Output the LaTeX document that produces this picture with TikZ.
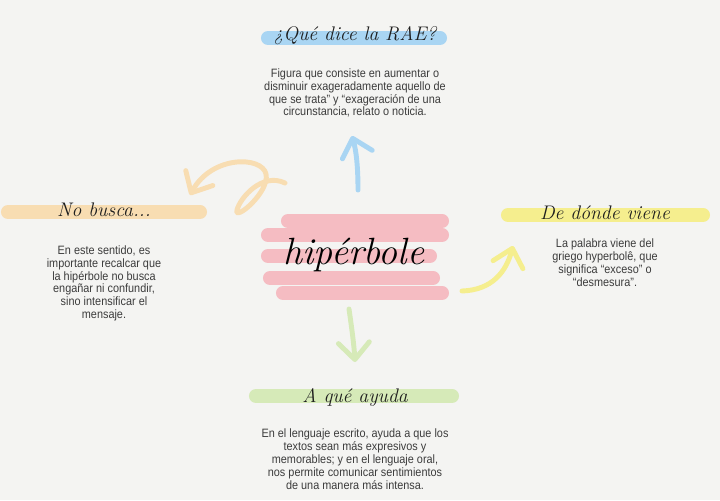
\documentclass[tikz,border=0pt]{standalone}
\usepackage{fontspec}
\setmainfont{Liberation Sans}[FakeStretch=0.9]
\newfontfamily\handfont{Latin Modern Roman}
\usepackage{tikz}
\usetikzlibrary{arrows.meta,positioning}

\definecolor{paper}{HTML}{F4F4F2}
\definecolor{ink}{HTML}{1E1E1E}
\definecolor{grayink}{HTML}{3C3C3C}
\definecolor{pinkpen}{HTML}{F5BCC2}
\definecolor{bluepen}{HTML}{A9D5F3}
\definecolor{orangepen}{HTML}{F8DDB2}
\definecolor{yellowpen}{HTML}{F5EE8E}
\definecolor{greenpen}{HTML}{D6EAB8}

\begin{document}
\begin{tikzpicture}[x=0.025cm, y=-0.025cm, line cap=round,
        >={Straight Barb[length=12pt,width=22pt,round]},
        brush/.style={->, line width=3.5pt, draw=#1},
        band/.style={line width=10pt, draw=#1},
        title/.style={font=\handfont\itshape\fontsize{14}{14}\selectfont, text=ink},
        body/.style={align=center, inner sep=0pt, text=grayink,
                     font=\fontsize{8.6}{9.2}\selectfont},
        node distance=0.45cm]
        \useasboundingbox[fill=paper] (0,0) rectangle (720,500);

        \foreach \y/\a/\b in {221/288/442, 235/268/442, 256/268/430, 278/270/433, 293/283/442}
            \draw[band=pinkpen] (\a,\y) -- (\b,\y);
        \draw[band=bluepen] (268,38) -- (440,38);
        \draw[band=orangepen] (8,212) -- (200,212);
        \draw[band=yellowpen] (508,215) -- (703,215);
        \draw[band=greenpen] (256,396) -- (452,396);

        \node (hyp) at (354,255) {\handfont\itshape\fontsize{27}{27}\selectfont hipérbole};

        \node [title] (rae) at (355,36) {¿Qué dice la RAE?};
        \node [title] (busca) at (104,210) {No busca...};
        \node [title] (origen) at (605,213) {De dónde viene};
        \node [title] (ayuda) at (355,397) {A qué ayuda};

        \node [body, below=of rae] (raetext) {Figura que consiste en aumentar o\\
            disminuir exageradamente aquello de\\que se trata” y “exageración de una\\
            circunstancia, relato o noticia.};
        \node [body, below=0.58cm of busca] (buscatext) {En este sentido, es\\importante recalcar que\\
            la hipérbole no busca\\engañar ni confundir,\\sino intensificar el\\mensaje.};
        \node [body, below=0.35cm of origen] (origentext) {La palabra viene del\\
            griego hyperbolê, que\\significa “exceso” o\\“desmesura”.};
        \node [body, below=0.43cm of ayuda] (ayudatext) {En el lenguaje escrito, ayuda a que los\\
            textos sean más expresivos y\\memorables; y en el lenguaje oral,\\
            nos permite comunicar sentimientos\\de una manera más intensa.};

        \coordinate (up0) at (358,190);
        \coordinate (up1) at (352,136);
        \coordinate (lf0) at (285,183);
        \coordinate (lf1) at (190,195);
        \coordinate (rt0) at (462,291);
        \coordinate (rt1) at (513,246);
        \coordinate (dn0) at (349,309);
        \coordinate (dn1) at (355,362);

        \draw[brush=bluepen] (up0) .. controls (358,165) and (356,150) .. (up1);
        \draw[brush=orangepen] (lf0) .. controls (262,172) and (240,198) .. (237,210)
            .. controls (234,222) and (270,192) .. (266,174)
            .. controls (262,156) and (212,155) .. (lf1);
        \draw[brush=yellowpen] (rt0) .. controls (492,290) and (506,272) .. (rt1);
        \draw[brush=greenpen] (dn0) .. controls (352,330) and (354,345) .. (dn1);
\end{tikzpicture}
\end{document}
